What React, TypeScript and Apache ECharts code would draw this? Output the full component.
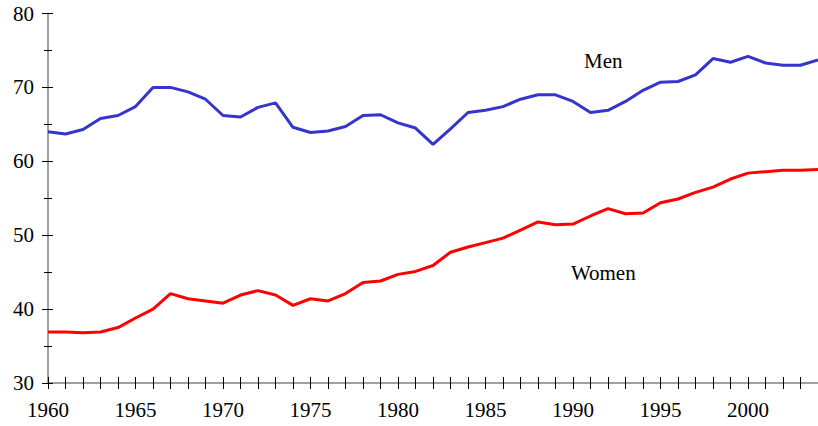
import React, { useEffect, useRef } from "react";
import * as echarts from "echarts";

const years: number[] = [
  1960, 1961, 1962, 1963, 1964, 1965, 1966, 1967, 1968, 1969,
  1970, 1971, 1972, 1973, 1974, 1975, 1976, 1977, 1978, 1979,
  1980, 1981, 1982, 1983, 1984, 1985, 1986, 1987, 1988, 1989,
  1990, 1991, 1992, 1993, 1994, 1995, 1996, 1997, 1998, 1999,
  2000, 2001, 2002, 2003, 2004,
];

const men: number[] = [
  64.0, 63.7, 64.3, 65.8, 66.2, 67.4, 70.0, 70.0, 69.4, 68.4,
  66.2, 66.0, 67.3, 67.9, 64.6, 63.9, 64.1, 64.7, 66.2, 66.3,
  65.2, 64.5, 62.3, 64.4, 66.6, 66.9, 67.4, 68.4, 69.0, 69.0,
  68.1, 66.6, 66.9, 68.1, 69.6, 70.7, 70.8, 71.7, 73.9, 73.4,
  74.2, 73.3, 73.0, 73.0, 73.7,
];

const women: number[] = [
  36.9, 36.9, 36.8, 36.9, 37.5, 38.8, 40.0, 42.1, 41.4, 41.1,
  40.8, 41.9, 42.5, 41.9, 40.5, 41.4, 41.1, 42.1, 43.6, 43.8,
  44.7, 45.1, 45.9, 47.7, 48.4, 49.0, 49.6, 50.7, 51.8, 51.4,
  51.5, 52.6, 53.6, 52.9, 53.0, 54.4, 54.9, 55.8, 56.5, 57.6,
  58.4, 58.6, 58.8, 58.8, 58.9,
];

const seriesNames: string[] = ["Men", "Women"];
const labelCoords: [number, number][] = [
  [1991.73, 73.57],
  [1991.73, 44.95],
];

const FONT = "Liberation Serif";

export default function App() {
  const ref = useRef<HTMLDivElement>(null);

  useEffect(() => {
    if (!ref.current) return;
    const chart = echarts.init(ref.current, undefined, { renderer: "svg" });

    const xBase = {
      type: "value" as const,
      min: 1960,
      max: 2004,
      interval: 1,
      position: "bottom" as const,
      splitLine: { show: false },
    };
    const yBase = {
      type: "value" as const,
      min: 30,
      max: 80,
      interval: 10,
      position: "left" as const,
      splitLine: { show: false },
    };

    const labelStyle = {
      color: "#000",
      fontFamily: FONT,
      fontSize: 21,
      fontWeight: "normal" as const,
    };
    const richStyle = { t: { ...labelStyle } };

    const makeSeries = (name: string, vals: number[], color: string, coord: [number, number]) => ({
      name,
      type: "line" as const,
      data: years.map((y, i) => [y, vals[i]]),
      showSymbol: false,
      symbol: "none",
      lineStyle: { color, width: 3 },
      itemStyle: { color },
      markPoint: {
        symbol: "circle",
        symbolSize: 0,
        data: [{ coord, value: name }],
        label: {
          show: true,
          position: "inside",
          formatter: name,
          ...labelStyle,
        },
      },
    });

    chart.setOption({
      animation: false,
      backgroundColor: "#fff",
      textStyle: { fontFamily: FONT, fontSize: 21, color: "#000" },
      grid: { left: 48, right: -5, top: 13.5, bottom: 43, containLabel: false },
      xAxis: [
        {
          ...xBase,
          axisLine: { show: true, lineStyle: { color: "#808080", width: 1.5 } },
          axisTick: { show: true, inside: false, length: 6, lineStyle: { color: "#000", width: 1 } },
          axisLabel: {
            show: true,
            margin: 16,
            ...labelStyle,
            rich: richStyle,
            showMaxLabel: false,
            hideOverlap: false,
            formatter: (v: number) => (v % 5 === 0 ? "{t|" + v + "}" : ""),
          },
        },
        {
          ...xBase,
          axisLine: { show: false },
          axisTick: { show: true, inside: true, length: 6, lineStyle: { color: "#000", width: 1 } },
          axisLabel: { show: false },
        },
      ],
      yAxis: [
        {
          ...yBase,
          axisLine: { show: true, lineStyle: { color: "#808080", width: 1.5 } },
          axisTick: { show: true, inside: false, length: 6, lineStyle: { color: "#000", width: 1 } },
          minorTick: { show: true, splitNumber: 2, length: 4, lineStyle: { color: "#000", width: 1 } },
          axisLabel: {
            show: true,
            margin: 14,
            ...labelStyle,
            rich: richStyle,
            formatter: (v: number) => "{t|" + v + "}",
          },
        },
        {
          ...yBase,
          axisLine: { show: false },
          axisTick: { show: true, inside: true, length: 5, lineStyle: { color: "#000", width: 1 } },
          minorTick: { show: true, splitNumber: 2, length: 4, lineStyle: { color: "#000", width: 1 } },
          axisLabel: { show: false },
        },
      ],
      series: [
        makeSeries(seriesNames[0], men, "#3535cc", labelCoords[0]),
        makeSeries(seriesNames[1], women, "#ff0000", labelCoords[1]),
      ],
    });

    return () => chart.dispose();
  }, []);

  return (
    <div
      ref={ref}
      style={{ position: "fixed", left: 0, top: 0, width: 818, height: 426 }}
    />
  );
}
